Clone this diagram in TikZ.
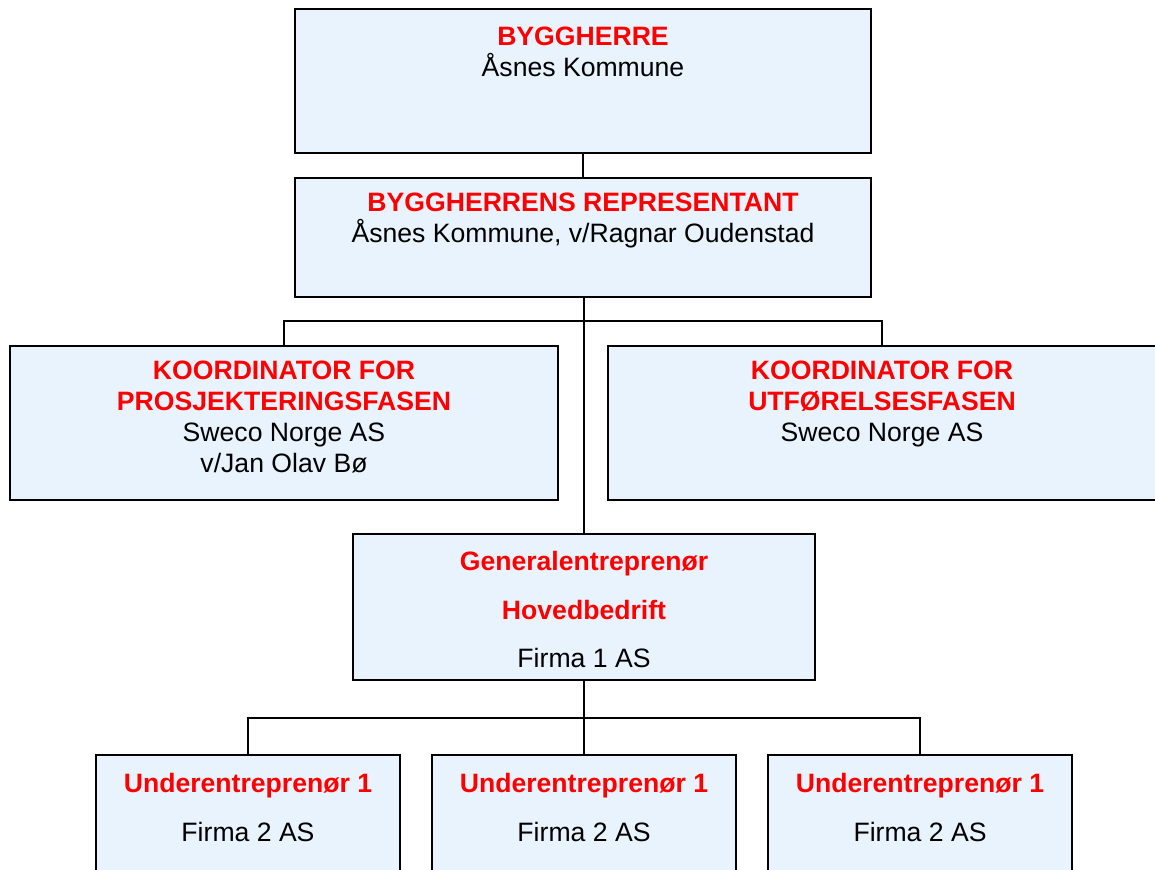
\documentclass[tikz,border=0pt]{standalone}
\usepackage{fontspec}
\setmainfont{Liberation Sans}
\usetikzlibrary{positioning}
\definecolor{boxfill}{RGB}{232,243,253}
\definecolor{titlered}{RGB}{255,0,0}
\newcommand{\rtitle}[1]{\textcolor{titlered}{\bfseries #1}}
\tikzset{font=\fontsize{13.3}{15.5}\selectfont}

\begin{document}
\begin{tikzpicture}[x=0.5pt, y=-0.5pt]
	\tikzstyle{orgbox}=[draw, line width=1.1pt, fill=boxfill, inner sep=0pt]
	\tikzstyle{txt}=[align=center, inner sep=0pt]
	\tikzstyle{link}=[line width=0.9pt]
	\useasboundingbox (0,0) rectangle (1155,869);
	\clip (0,0) rectangle (1155,869);

	% boxes
	\node[orgbox, minimum width=288pt, minimum height=72pt] (bh) at (583, 81) {};
	\node[orgbox, minimum width=288pt, minimum height=59.5pt] (rep) at (583, 237.5) {};
	\node[orgbox, minimum width=274pt, minimum height=77pt] (kp) at (284, 423) {};
	\node[orgbox, minimum width=274pt, minimum height=77pt] (ku) at (882, 423) {};
	\node[orgbox, minimum width=231pt, minimum height=73pt] (ge) at (584, 607) {};
	\node[orgbox, minimum width=152pt, minimum height=75pt] (ua) at (248, 830) {};
	\node[orgbox, minimum width=152pt, minimum height=75pt] (ub) at (584, 830) {};
	\node[orgbox, minimum width=152pt, minimum height=75pt] (uc) at (920, 830) {};

	% texts
	\node[txt, below=9.5pt of bh.north] (bhtxt) {\rtitle{BYGGHERRE}\\Åsnes Kommune};
	\node[txt, below=8pt of rep.north] (reptxt) {\rtitle{BYGGHERRENS REPRESENTANT}\\Åsnes Kommune, v/Ragnar Oudenstad};
	\node[txt, below=8pt of kp.north] (kptxt) {\rtitle{KOORDINATOR FOR}\\\rtitle{PROSJEKTERINGSFASEN}\\Sweco Norge AS\\v/Jan Olav Bø};
	\node[txt, below=8pt of ku.north] (kutxt) {\rtitle{KOORDINATOR FOR}\\\rtitle{UTFØRELSESFASEN}\\Sweco Norge AS};
	\node[txt, below=9pt of ge.north] (getxt) {\rtitle{Generalentreprenør}\\[8.8pt]\rtitle{Hovedbedrift}\\[8.8pt]Firma 1 AS};
	\node[txt, below=9.5pt of ua.north] (uatxt) {\rtitle{Underentreprenør 1}\\[8.8pt]Firma 2 AS};
	\node[txt, below=9.5pt of ub.north] (ubtxt) {\rtitle{Underentreprenør 1}\\[8.8pt]Firma 2 AS};
	\node[txt, below=9.5pt of uc.north] (uctxt) {\rtitle{Underentreprenør 1}\\[8.8pt]Firma 2 AS};

	% connectors
	\coordinate (busk) at (584, 321);
	\coordinate (busu) at (584, 718);
	\draw[link] (bh.south) -- (rep.south |- bh.south) -- (rep.north);
	\draw[link] (rep.south -| ge.north) -- (ge.north);
	\draw[link] (kp.north) |- (busk) -| (ku.north);
	\draw[link] (ge.south) -- (busu);
	\draw[link] (ua.north) |- (busu) -| (uc.north);
	\draw[link] (busu) -- (ub.north);
\end{tikzpicture}
\end{document}
